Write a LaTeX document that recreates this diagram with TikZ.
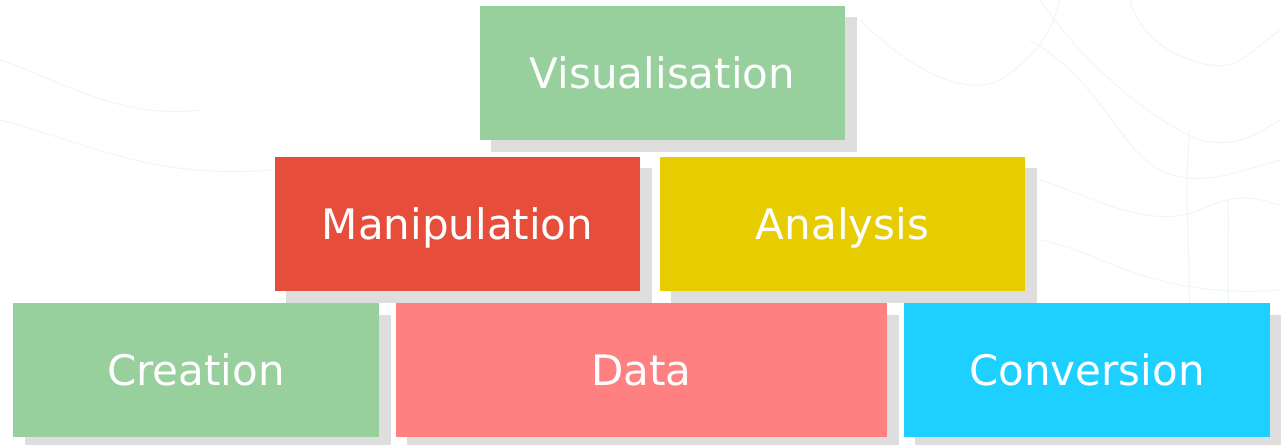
\documentclass[tikz,border=0pt]{standalone}
\usepackage{fontspec}
\setmainfont{DejaVu Sans}
\definecolor{cgreen}{RGB}{151,207,157}
\definecolor{cred}{RGB}{231,77,59}
\definecolor{cyellow}{RGB}{230,204,0}
\definecolor{cpink}{RGB}{255,128,128}
\definecolor{ccyan}{RGB}{30,208,255}
\definecolor{cshadow}{RGB}{222,222,222}
\definecolor{ctopo}{RGB}{238,249,238}
\begin{document}
\begin{tikzpicture}[x=1pt,y=-1pt,
  blockbox/.style={rectangle,inner sep=0pt,minimum height=134pt,text=white,
    text height=30.6pt,text depth=0pt,font=\fontsize{42}{50}\selectfont},
  shadowbox/.style={fill=cshadow},
  topo/.style={draw=ctopo,line width=1pt}]
\useasboundingbox (0,0) rectangle (1281,445);
\fill[white] (0,0) rectangle (1281,445);
% faint background contour lines
\draw[topo] (1040,0) .. controls (1080,60) and (1150,120) .. (1200,140) .. controls (1240,150) and (1260,130) .. (1281,120);
\draw[topo] (1030,40) .. controls (1100,80) and (1120,150) .. (1160,170) .. controls (1200,190) and (1240,170) .. (1281,160);
\draw[topo] (1130,0) .. controls (1140,40) and (1180,60) .. (1210,65) .. controls (1240,70) and (1250,50) .. (1281,30);
\draw[topo] (1190,130) .. controls (1180,220) and (1200,300) .. (1181,445);
\draw[topo] (1040,180) .. controls (1100,200) and (1150,230) .. (1200,210) .. controls (1240,190) and (1260,200) .. (1281,205);
\draw[topo] (1040,240) .. controls (1100,250) and (1150,300) .. (1281,290);
\draw[topo] (1228,200) .. controls (1230,260) and (1220,330) .. (1250,445);
\draw[topo] (0,60) .. controls (60,80) and (120,120) .. (200,110);
\draw[topo] (0,120) .. controls (80,140) and (150,180) .. (270,170);
\draw[topo] (860,20) .. controls (900,60) and (960,100) .. (1000,80) .. controls (1030,60) and (1050,40) .. (1060,0);
% shadows
\fill[shadowbox] (491,17) rectangle (857,152);
\fill[shadowbox] (286,168) rectangle (652,303);
\fill[shadowbox] (671,168) rectangle (1037,303);
\fill[shadowbox] (25,315) rectangle (391,445);
\fill[shadowbox] (407,315) rectangle (899,445);
\fill[shadowbox] (915,315) rectangle (1281,445);
% blocks
\node[blockbox,fill=cgreen,minimum width=365pt] (vis) at (662.5,73) {Visualisation};
\node[blockbox,fill=cred,minimum width=365pt] (man) at (457.5,224) {Manipulation};
\node[blockbox,fill=cyellow,minimum width=365pt] (ana) at (842.5,224) {Analysis};
\node[blockbox,fill=cgreen,minimum width=366pt] (cre) at (196,370) {Creation};
\node[blockbox,fill=cpink,minimum width=491pt] (dat) at (641.5,370) {Data};
\node[blockbox,fill=ccyan,minimum width=366pt] (con) at (1087,370) {Conversion};
\end{tikzpicture}
\end{document}
